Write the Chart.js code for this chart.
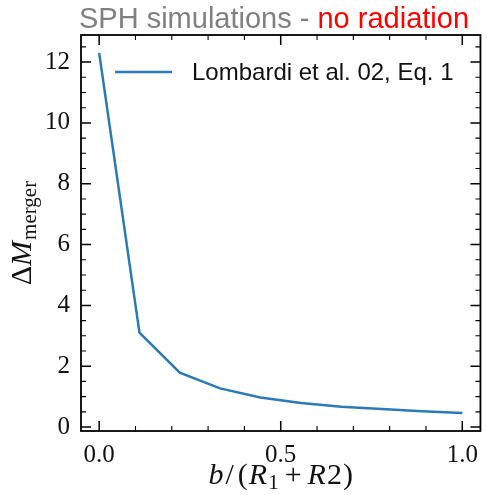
<!DOCTYPE html>
<html>
<head>
<meta charset="utf-8">
<script src="https://cdn.jsdelivr.net/npm/chart.js@4.4.1/dist/chart.umd.min.js"></script>
<style>
  html, body { margin: 0; padding: 0; background: #fff; }
  #wrap { width: 487px; height: 495px; }
</style>
</head>
<body>
<div id="wrap"><canvas id="mergerChart" width="487" height="495"></canvas></div>
<script>
// impact parameter b/(R1+R2) and mass change
const bValues = [0.0, 0.111, 0.222, 0.333, 0.444, 0.556, 0.667, 0.778, 0.889, 1.0];
const deltaM = [12.3, 3.10, 1.79, 1.27, 0.97, 0.79, 0.67, 0.59, 0.52, 0.46];
const xTickValues = [0.0, 0.5, 1.0];
const yTickValues = [0, 2, 4, 6, 8, 10, 12];
const seriesLabel = 'Lombardi et al. 02, Eq. 1';

const lineColor = '#2a7ab8';
const serif = '"Liberation Serif", "DejaVu Serif", serif';
const sans = '"Liberation Sans", Arial, sans-serif';

function drawParts(ctx, parts, x, y) {
    // parts: [text, font, dy, gap after]
    parts.forEach(p => {
        ctx.font = p[1];
        ctx.fillText(p[0], x, y + (p[2] || 0));
        x += ctx.measureText(p[0]).width + (p[3] || 0);
    });
}

function partsWidth(ctx, parts) {
    var w = 0;
    parts.forEach(p => {
        ctx.font = p[1];
        w += ctx.measureText(p[0]).width + (p[3] || 0);
    });
    return w;
}

const framePlugin = {
    id: 'frame',
    afterDraw(chart) {
        const ctx = chart.ctx;
        const a = chart.chartArea;
        const xs = chart.scales.x;
        const ys = chart.scales.y;
        ctx.save();

        // box around the axes
        ctx.strokeStyle = '#000';
        ctx.lineWidth = 1.8;
        ctx.strokeRect(a.left, a.top, a.right - a.left, a.bottom - a.top);

        // inward ticks on all four sides
        function tickX(v, len, lw) {
            const px = xs.getPixelForValue(v);
            ctx.lineWidth = lw;
            ctx.beginPath();
            ctx.moveTo(px, a.bottom); ctx.lineTo(px, a.bottom - len);
            ctx.moveTo(px, a.top); ctx.lineTo(px, a.top + len);
            ctx.stroke();
        }
        function tickY(v, len, lw) {
            const py = ys.getPixelForValue(v);
            ctx.lineWidth = lw;
            ctx.beginPath();
            ctx.moveTo(a.left, py); ctx.lineTo(a.left + len, py);
            ctx.moveTo(a.right, py); ctx.lineTo(a.right - len, py);
            ctx.stroke();
        }
        for (var i = 0; i <= 10; i++) {
            const v = i / 10;
            if (i % 5 === 0) tickX(v, 10, 1.5); else tickX(v, 5, 1.1);
        }
        for (var j = 0; j <= 25; j++) {
            const v = j / 2;
            if (j % 4 === 0) tickY(v, 10, 1.5); else tickY(v, 5, 1.1);
        }

        // title in two colours
        ctx.textBaseline = 'alphabetic';
        ctx.textAlign = 'left';
        ctx.font = '29px ' + sans;
        const t1 = 'SPH simulations - ';
        const t2 = 'no radiation';
        const w1 = ctx.measureText(t1).width;
        const w2 = ctx.measureText(t2).width;
        const tx = 274 - (w1 + w2) / 2;
        ctx.fillStyle = '#808080';
        ctx.fillText(t1, tx, 28);
        ctx.fillStyle = '#ff0000';
        ctx.fillText(t2, tx + w1, 28);

        // legend
        const ds = chart.data.datasets[0];
        ctx.strokeStyle = ds.borderColor;
        ctx.lineWidth = 2.5;
        ctx.beginPath();
        ctx.moveTo(115, 72); ctx.lineTo(172, 72);
        ctx.stroke();
        ctx.fillStyle = '#111';
        ctx.font = '24px ' + sans;
        ctx.textBaseline = 'middle';
        ctx.fillText(ds.label, 192, 73);

        // x axis title: b / (R_1 + R2)
        ctx.textBaseline = 'alphabetic';
        ctx.fillStyle = '#111';
        const f = '30px ' + serif;
        const fi = 'italic 30px ' + serif;
        const fs = '21px ' + serif;
        const xParts = [
            ['b', fi, 0, 2], ['/', f, 0, 4], ['(', f, 0, 1], ['R', fi, 0, 1],
            ['1', fs, 5, 6], ['+', f, 0, 6], ['R', fi, 0, 1], ['2', f, 0, 1], [')', f, 0, 0]
        ];
        const xw = partsWidth(ctx, xParts);
        drawParts(ctx, xParts, (a.left + a.right) / 2 - xw / 2, 484);

        // y axis title: Delta M_merger, rotated
        const yParts = [['\u0394', f, 0, 0], ['M', fi, 0, 1], ['merger', fs, 5, 0]];
        const yw = partsWidth(ctx, yParts);
        ctx.translate(31, (a.top + a.bottom) / 2);
        ctx.rotate(-Math.PI / 2);
        drawParts(ctx, yParts, -yw / 2, 0);

        ctx.restore();
    }
};

const ctx = document.getElementById('mergerChart').getContext('2d');
const points = bValues.map((b, i) => ({ x: b, y: deltaM[i] }));

new Chart(ctx, {
    type: 'line',
    data: {
        datasets: [{
            label: seriesLabel,
            data: points,
            borderColor: lineColor,
            backgroundColor: lineColor,
            borderWidth: 2.5,
            pointRadius: 0,
            fill: false,
            tension: 0
        }]
    },
    options: {
        responsive: false,
        animation: false,
        devicePixelRatio: 1,
        layout: { padding: { top: 35, right: 2, left: 0, bottom: 0 } },
        plugins: {
            legend: { display: false },
            tooltip: { enabled: false }
        },
        scales: {
            x: {
                type: 'linear',
                min: -0.05,
                max: 1.05,
                afterBuildTicks: scale => { scale.ticks = xTickValues.map(v => ({ value: v })); },
                afterFit: scale => { scale.height = 64; },
                grid: { display: false, drawTicks: false },
                border: { display: false },
                ticks: {
                    color: '#111',
                    padding: 9,
                    font: { family: serif, size: 25 },
                    callback: v => v.toFixed(1)
                }
            },
            y: {
                type: 'linear',
                min: -0.13,
                max: 12.89,
                afterBuildTicks: scale => { scale.ticks = yTickValues.map(v => ({ value: v })); },
                afterFit: scale => { scale.width = 81; },
                grid: { display: false, drawTicks: false },
                border: { display: false },
                ticks: {
                    color: '#111',
                    padding: 11,
                    font: { family: serif, size: 25 },
                    callback: v => String(v)
                }
            }
        }
    },
    plugins: [framePlugin]
});
</script>
</body>
</html>
